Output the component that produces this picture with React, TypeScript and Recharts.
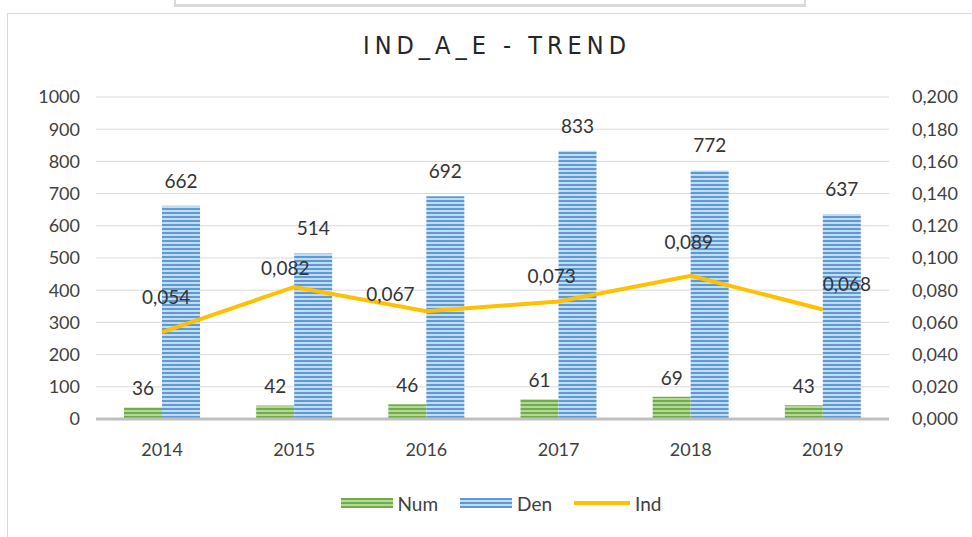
import React from 'react'
import {
  ComposedChart,
  Bar,
  Line,
  XAxis,
  YAxis,
  CartesianGrid,
  Legend,
  LabelList,
} from 'recharts'

const years = ['2014', '2015', '2016', '2017', '2018', '2019']
const numValues = [36, 42, 46, 61, 69, 43]
const denValues = [662, 514, 692, 833, 772, 637]
const indValues = [0.054, 0.082, 0.067, 0.073, 0.089, 0.068]

const leftTicks = [0, 100, 200, 300, 400, 500, 600, 700, 800, 900, 1000]
const rightTicks = [0, 0.02, 0.04, 0.06, 0.08, 0.1, 0.12, 0.14, 0.16, 0.18, 0.2]

// hand-placed label nudges (Excel labels were dragged around)
const indLabelDx = [4, -9, -36, -7, -2, 24]
const indLabelDy = [36, 19, 18, 26, 34, 26]

const data = years.map((year, i) => ({
  year,
  num: numValues[i],
  den: denValues[i],
  ind: indValues[i],
}))

const FONT = 'Lato, "Open Sans", sans-serif'
const TEXT = '#404040'

const fmtComma = (v: number) => v.toFixed(3).replace('.', ',')

function IndLabel(props: any) {
  const { x, y, value, index } = props
  return (
    <text
      x={x + indLabelDx[index]}
      y={y - indLabelDy[index]}
      textAnchor="middle"
      dominantBaseline="central"
      fill="#333"
      fontSize={19}
      fontFamily={FONT}
    >
      {fmtComma(value)}
    </text>
  )
}

function LegendContent() {
  const item = (swatch: React.ReactNode, label: string) => (
    <div style={{ display: 'flex', alignItems: 'center', margin: '0 11px' }}>
      {swatch}
      <span style={{ marginLeft: 5, fontSize: 19, color: TEXT, fontFamily: FONT }}>{label}</span>
    </div>
  )
  return (
    <div style={{ height: 30, display: 'flex', justifyContent: 'center', alignItems: 'center', paddingLeft: 30 }}>
      {item(
        <svg width={52} height={10}>
          <rect width={52} height={10} fill="url(#numStripe)" />
        </svg>,
        'Num'
      )}
      {item(
        <svg width={52} height={10}>
          <rect width={52} height={10} fill="url(#denStripe)" />
        </svg>,
        'Den'
      )}
      {item(
        <svg width={56} height={10}>
          <line x1={0} y1={5} x2={56} y2={5} stroke="#FFC000" strokeWidth={4} />
        </svg>,
        'Ind'
      )}
    </div>
  )
}

export default function App() {
  return (
    <div style={{ position: 'absolute', left: 0, top: 0, width: 972, height: 537, background: '#fff', overflow: 'hidden' }}>
      <div
        style={{
          position: 'absolute',
          left: 174,
          top: -4,
          width: 628,
          height: 8,
          borderLeft: '2px solid #DADADA',
          borderRight: '2px solid #DADADA',
          borderBottom: '3px solid #DADADA',
        }}
      />
      <div
        style={{
          position: 'absolute',
          left: 7,
          top: 13,
          width: 990,
          height: 560,
          border: '1.5px solid #D9D9D9',
        }}
      />
      <div
        style={{
          position: 'absolute',
          left: 0,
          top: 31,
          width: 994,
          textAlign: 'center',
          fontFamily: '"Liberation Sans Narrow", "DejaVu Sans Condensed", sans-serif',
          fontSize: 25,
          letterSpacing: 5,
          color: '#262626',
        }}
      >
        IND_A_E - TREND
      </div>
      <div style={{ position: 'absolute', left: 0, top: 0 }}>
        <ComposedChart
          width={972}
          height={537}
          data={data}
          margin={{ top: 97, right: 0, bottom: 19, left: 0 }}
          barGap={0}
        >
          <defs>
            <pattern id="numStripe" width={4} height={4} patternUnits="userSpaceOnUse">
              <rect width={4} height={4} fill="#B4D89A" />
              <rect width={4} height={2} fill="#70AD47" />
            </pattern>
            <pattern id="denStripe" width={4} height={4} patternUnits="userSpaceOnUse">
              <rect width={4} height={4} fill="#C5DBF1" />
              <rect width={4} height={2} fill="#5B9BD5" />
            </pattern>
          </defs>
          <CartesianGrid vertical={false} stroke="#D9D9D9" yAxisId="left" />
          <XAxis
            dataKey="year"
            height={69}
            axisLine={{ stroke: '#BFBFBF', strokeWidth: 3 }}
            tickLine={false}
            tickMargin={18}
            tick={{ fill: TEXT, fontSize: 18, fontFamily: FONT }}
          />
          <YAxis
            yAxisId="left"
            orientation="left"
            width={96}
            domain={[0, 1000]}
            ticks={leftTicks}
            axisLine={false}
            tickLine={false}
            tickMargin={10}
            tick={{ fill: TEXT, fontSize: 18, fontFamily: FONT }}
          />
          <YAxis
            yAxisId="right"
            orientation="right"
            width={83}
            domain={[0, 0.2]}
            ticks={rightTicks}
            axisLine={false}
            tickLine={false}
            tickMargin={17}
            tickFormatter={fmtComma}
            tick={{ fill: TEXT, fontSize: 18, fontFamily: FONT, textAnchor: 'start' }}
          />
          <Legend verticalAlign="bottom" height={30} content={<LegendContent />} />
          <Bar yAxisId="left" dataKey="num" name="Num" fill="url(#numStripe)" barSize={38} isAnimationActive={false}>
            <LabelList dataKey="num" position="top" offset={12} fill="#333" fontSize={19} fontFamily={FONT} />
          </Bar>
          <Bar yAxisId="left" dataKey="den" name="Den" fill="url(#denStripe)" barSize={38} isAnimationActive={false}>
            <LabelList dataKey="den" position="top" offset={18} fill="#333" fontSize={19} fontFamily={FONT} />
          </Bar>
          <Line
            yAxisId="right"
            type="linear"
            dataKey="ind"
            name="Ind"
            stroke="#FFC000"
            strokeWidth={4}
            dot={false}
            isAnimationActive={false}
          >
            <LabelList dataKey="ind" content={<IndLabel />} />
          </Line>
        </ComposedChart>
      </div>
    </div>
  )
}
